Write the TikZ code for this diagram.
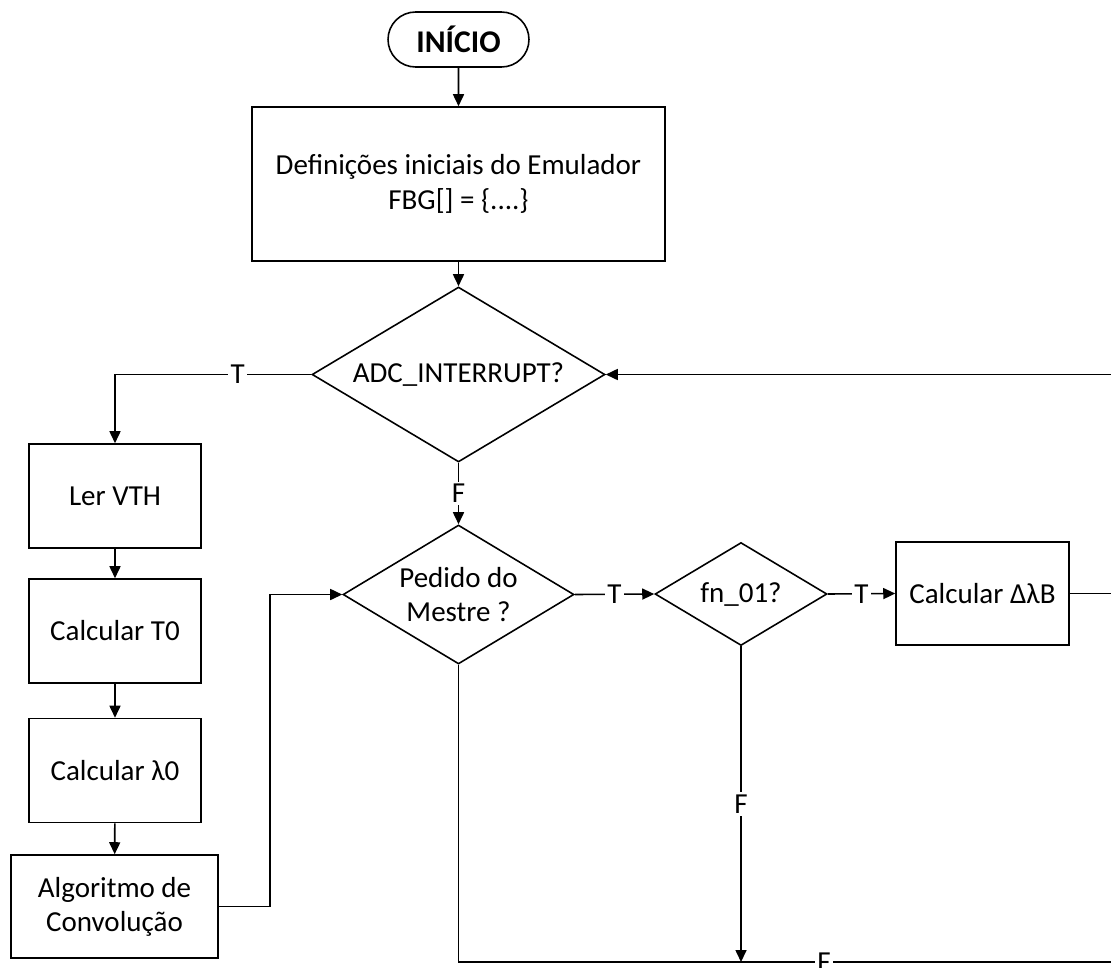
\documentclass[tikz,border=0pt]{standalone}
\usepackage{fontspec}
\setmainfont{Carlito}
\usepackage{tikz}
\usetikzlibrary{shapes.geometric,shapes.misc,arrows.meta,positioning}

\begin{document}
\begin{tikzpicture}[x=0.02cm,y=-0.02cm,
  every node/.style={font=\fontsize{16.5}{19.5}\selectfont, align=center, line width=0.9pt},
  proc/.style={draw, rectangle, inner sep=0pt, minimum width=3.44cm, minimum height=2.08cm},
  cond/.style={draw, diamond, inner sep=0pt},
  term/.style={draw, rounded rectangle, inner sep=0pt, minimum width=2.82cm, minimum height=1.10cm,
               font=\fontsize{18}{21}\selectfont\bfseries},
  lbl/.style={fill=white, inner sep=1.5pt},
  arr/.style={-{Triangle[length=0.24cm,width=0.22cm]}},
  line width=0.9pt]
\useasboundingbox (0,0) rectangle (1111,967);
% main column
\node [term] (start) at (458.5,39.5) {INÍCIO};
\node [proc, minimum width=8.26cm, minimum height=3.08cm] (init) at (458.5,184)
  {Definições iniciais do Emulador\\FBG[] = \{....\}};
\node [cond, minimum width=5.86cm, minimum height=3.5cm, shape aspect=1.67] (adc) at (458.5,374.5) {ADC\_INTERRUPT?};
\node [cond, minimum width=4.62cm, minimum height=2.78cm, shape aspect=1.66] (ped) at (458.5,594.5) {Pedido do\\Mestre ?};
\node [cond, minimum width=3.44cm, minimum height=2.06cm, shape aspect=1.67] (fn) at (741,594) {fn\_01?};
\node [proc, minimum width=3.46cm, minimum height=2.06cm] (dlb) at (982.5,593.5) {Calcular ΔλB};
% left column
\node [proc] (ler) at (115,496) {Ler VTH};
\node [proc] (t0) at (115,631) {Calcular T0};
\node [proc] (l0) at (115,770.5) {Calcular λ0};
\node [proc, minimum width=4.14cm, minimum height=2.06cm] (algo) at (114.5,906.5) {Algoritmo de\\Convolução};
% loose ends
\coordinate (ret) at (1111,374.5);
\coordinate (out) at (1111,593.5);
\coordinate (bot) at (1111,962);
\coordinate (up) at (270,0);

\draw [arr] (start) -- (init);
\draw [arr] (init) -- (adc);
\draw [arr] (adc.west) -- node [lbl, pos=0.375] {T} (adc.west -| ler) -- (ler);
\draw [arr] (adc.south) -- node [lbl] {F} (ped.north);
\draw [arr] (ret) -- (adc.east);
\draw [arr] (ler) -- (t0);
\draw [arr] (t0) -- (l0);
\draw [arr] (l0) -- (algo);
\draw [arr] (algo.east) -| (up |- ped.west) -- (ped.west);
\draw [arr] (ped.east) -- node [lbl] {T} (fn.west);
\draw [arr] (fn.east) -- node [lbl] {T} (dlb.west);
\draw (dlb.east) -- (out);
\draw (ped.south) -- (ped.south |- bot) -- node [lbl, pos=0.56] {F} (bot);
\draw [arr] (fn.south) -- node [lbl] {F} (fn.south |- bot);
\end{tikzpicture}
\end{document}
